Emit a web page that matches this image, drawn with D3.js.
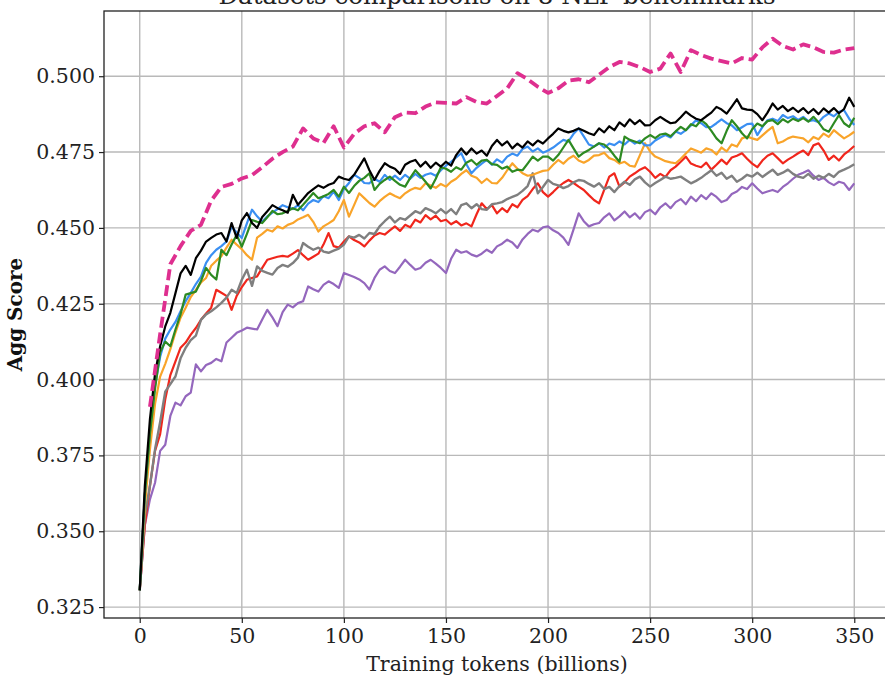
<!DOCTYPE html>
<html><head><meta charset="utf-8">
<script src="https://cdn.jsdelivr.net/npm/d3@7"></script>
<style>html,body{margin:0;padding:0;background:#fff;overflow:hidden}</style>
</head><body><svg id="chart" width="885" height="677"></svg>
<script>
const title = "Datasets comparisons on 8 NLP benchmarks";
const xLabel = "Training tokens (billions)";
const yLabel = "Agg Score";
const xTicks = [0, 50, 100, 150, 200, 250, 300, 350];
const yTicks = [0.325, 0.350, 0.375, 0.400, 0.425, 0.450, 0.475, 0.500];

const tokens = [0,2.5,5,7.5,10,12.5,15,17.5,20,22.5,25,27.5,30,32.5,35,37.5,40,42.5,45,47.5,
50,52.5,55,57.5,60,62.5,65,67.5,70,72.5,75,77.5,80,82.5,85,87.5,90,92.5,95,97.5,
100,102.5,105,107.5,110,112.5,115,117.5,120,122.5,125,127.5,130,132.5,135,137.5,140,142.5,145,147.5,
150,152.5,155,157.5,160,162.5,165,167.5,170,172.5,175,177.5,180,182.5,185,187.5,190,192.5,195,197.5,
200,202.5,205,207.5,210,212.5,215,217.5,220,222.5,225,227.5,230,232.5,235,237.5,240,242.5,245,247.5,
250,252.5,255,257.5,260,262.5,265,267.5,270,272.5,275,277.5,280,282.5,285,287.5,290,292.5,295,297.5,
300,302.5,305,307.5,310,312.5,315,317.5,320,322.5,325,327.5,330,332.5,335,337.5,340,342.5,345,347.5,350];

const pinkTokens = [5,10,15,20,25,30,35,40,45,50,55,60,65,70,75,80,85,90,95,100,
105,110,115,120,125,130,135,140,145,150,155,160,165,170,175,180,185,190,195,200,
205,210,215,220,225,230,235,240,245,250,255,260,265,270,275,280,285,290,295,300,
305,310,315,320,325,330,335,340,345,350];
const pinkSeries = [0.391,0.415,0.438,0.444,0.449,0.451,0.459,0.4635,0.4645,0.4663,
0.4674,0.470,0.4728,0.475,0.4768,0.4828,0.4795,0.478,0.4835,0.4765,
0.481,0.4835,0.4845,0.4815,0.4865,0.488,0.4878,0.490,0.4914,0.4912,
0.491,0.4931,0.4915,0.491,0.4935,0.496,0.501,0.499,0.4965,0.4945,
0.496,0.4985,0.499,0.498,0.5005,0.503,0.5047,0.5042,0.503,0.5014,
0.5025,0.5075,0.5014,0.5086,0.507,0.5058,0.505,0.5042,0.506,0.5055,
0.5095,0.5124,0.510,0.5088,0.5105,0.5095,0.508,0.5078,0.5088,0.5093];

const blackSeries = [
0.3305,0.365,0.387,0.402,0.411,0.4175,0.422,0.4285,0.435,0.4375,
0.4345,0.440,0.4425,0.4455,0.4467,0.4478,0.4483,0.4455,0.4516,0.4467,
0.4525,0.4549,0.4516,0.450,0.4536,0.4555,0.4575,0.4565,0.4558,0.455,
0.4609,0.4576,0.4595,0.4615,0.4628,0.464,0.4632,0.4642,0.4648,0.4669,
0.4662,0.4658,0.4675,0.4702,0.4729,0.469,0.4658,0.4688,0.4713,0.4702,
0.4695,0.4678,0.4708,0.4718,0.4724,0.4702,0.4718,0.4698,0.4715,0.4702,
0.4718,0.4705,0.474,0.4762,0.4742,0.4762,0.4745,0.4755,0.4738,0.477,
0.479,0.4772,0.4785,0.4762,0.4778,0.4765,0.4785,0.4772,0.4788,0.4778,
0.4795,0.481,0.4828,0.482,0.4815,0.482,0.4828,0.482,0.4812,0.4806,
0.4828,0.4815,0.4835,0.4822,0.4848,0.4835,0.4858,0.4842,0.4855,0.4838,
0.4839,0.4855,0.4866,0.4855,0.4845,0.4848,0.4865,0.4883,0.487,0.486,
0.4855,0.4868,0.488,0.4899,0.489,0.4877,0.49,0.4924,0.4894,0.489,
0.4888,0.4875,0.4855,0.488,0.491,0.489,0.4902,0.4885,0.4896,0.4882,
0.4895,0.4878,0.4892,0.4875,0.4894,0.488,0.4895,0.4878,0.4892,0.4929,
0.4899];

const blueSeries = [
0.3305,0.362,0.383,0.398,0.4075,0.4135,0.4165,0.419,0.4225,0.4258,
0.4286,0.4315,0.4339,0.4385,0.441,0.4428,0.444,0.4455,0.4504,0.4485,
0.4467,0.4515,0.456,0.4538,0.452,0.4538,0.455,0.4562,0.4575,0.4568,
0.4562,0.4575,0.4558,0.458,0.4592,0.4585,0.4605,0.4598,0.462,0.4592,
0.4628,0.4648,0.4675,0.4665,0.4648,0.4647,0.4662,0.4652,0.4675,0.4658,
0.4672,0.4658,0.4675,0.4662,0.4678,0.4665,0.4675,0.468,0.4672,0.469,
0.4705,0.4718,0.4732,0.4746,0.471,0.468,0.4698,0.4712,0.4724,0.4708,
0.4726,0.4715,0.4735,0.4745,0.4738,0.476,0.4768,0.4752,0.4762,0.4748,
0.4755,0.4765,0.4778,0.479,0.4785,0.481,0.4828,0.4802,0.4775,0.4768,
0.4779,0.4765,0.4778,0.4773,0.4785,0.4775,0.479,0.4778,0.4788,0.4772,
0.4773,0.4788,0.4798,0.4806,0.4798,0.4818,0.481,0.4822,0.4838,0.4855,
0.4845,0.4832,0.4833,0.4845,0.4858,0.4845,0.4838,0.4822,0.4832,0.4842,
0.4844,0.4806,0.4832,0.4855,0.486,0.4852,0.4872,0.4862,0.4868,0.4856,
0.4866,0.4852,0.4855,0.4848,0.4866,0.4877,0.4868,0.4883,0.4888,0.486,
0.4839];

const greenSeries = [
0.3305,0.362,0.382,0.397,0.409,0.4125,0.411,0.4165,0.4215,0.428,
0.4285,0.429,0.4325,0.4368,0.4345,0.433,0.4428,0.441,0.4445,0.4477,
0.4438,0.448,0.4526,0.452,0.4516,0.4535,0.4556,0.4545,0.4548,0.4556,
0.4565,0.4558,0.4576,0.4595,0.4615,0.4598,0.4604,0.4612,0.4625,0.4603,
0.4636,0.4615,0.4638,0.4655,0.4665,0.468,0.4625,0.4645,0.4658,0.4669,
0.4655,0.4642,0.4636,0.4665,0.469,0.4672,0.4652,0.463,0.4662,0.470,
0.4695,0.4685,0.470,0.4692,0.4715,0.4724,0.4708,0.4722,0.4724,0.471,
0.4708,0.4695,0.4702,0.4685,0.4692,0.469,0.4712,0.4735,0.4722,0.4735,
0.4735,0.4722,0.474,0.4765,0.479,0.4762,0.4735,0.4748,0.4757,0.4768,
0.4779,0.4775,0.476,0.4738,0.4718,0.4801,0.479,0.4785,0.4779,0.4795,
0.4806,0.4796,0.4808,0.4811,0.4802,0.4818,0.4833,0.4822,0.4842,0.4835,
0.4855,0.4842,0.482,0.4795,0.4779,0.482,0.4855,0.4835,0.4812,0.4795,
0.4825,0.4844,0.4835,0.4852,0.4855,0.4842,0.4858,0.4848,0.486,0.4852,
0.4862,0.485,0.4866,0.4848,0.4825,0.4817,0.4845,0.4872,0.4845,0.4833,
0.4863];

const orangeSeries = [
0.3305,0.358,0.377,0.392,0.401,0.4052,0.410,0.4155,0.4204,0.4237,
0.4272,0.4296,0.432,0.4335,0.4375,0.4392,0.4407,0.4435,0.4461,0.4445,
0.443,0.441,0.4395,0.4468,0.448,0.4494,0.4488,0.4505,0.4498,0.451,
0.4516,0.4528,0.4535,0.4543,0.452,0.4488,0.4505,0.4515,0.4526,0.4555,
0.4592,0.4537,0.4575,0.4614,0.4598,0.4582,0.457,0.4588,0.4602,0.4614,
0.4605,0.4598,0.4614,0.4625,0.4632,0.4628,0.4647,0.464,0.4632,0.4645,
0.4636,0.4652,0.4662,0.4678,0.469,0.4672,0.4665,0.4648,0.4662,0.4648,
0.4647,0.4665,0.469,0.4713,0.4695,0.468,0.4672,0.4675,0.4682,0.4688,
0.469,0.4708,0.4724,0.4712,0.4728,0.4738,0.4722,0.4715,0.4724,0.4738,
0.474,0.4748,0.473,0.4724,0.4712,0.4718,0.4705,0.4702,0.474,0.4779,
0.4752,0.4735,0.4728,0.472,0.4716,0.4713,0.4728,0.4745,0.4762,0.4755,
0.4748,0.4762,0.4757,0.4742,0.4765,0.4752,0.4775,0.4768,0.4795,0.4801,
0.4795,0.479,0.4805,0.482,0.4833,0.4779,0.4785,0.4795,0.4801,0.4798,
0.4795,0.4782,0.48,0.4792,0.4811,0.48,0.4822,0.4808,0.4795,0.4805,
0.4817];

const redSeries = [
0.3305,0.352,0.365,0.3765,0.382,0.3935,0.4015,0.406,0.4105,0.4122,
0.4148,0.417,0.4197,0.4218,0.4237,0.4296,0.4286,0.4276,0.423,0.4276,
0.4305,0.4329,0.4335,0.434,0.4368,0.4395,0.44,0.4405,0.4408,0.4405,
0.4415,0.4427,0.441,0.4395,0.4405,0.4415,0.4445,0.4483,0.444,0.4435,
0.4455,0.4472,0.446,0.4452,0.4439,0.4458,0.4475,0.4483,0.4478,0.4492,
0.4505,0.449,0.451,0.4502,0.4527,0.4518,0.4542,0.4528,0.454,0.4522,
0.4527,0.4512,0.4522,0.4508,0.4515,0.4505,0.4545,0.4581,0.4562,0.4575,
0.4548,0.4565,0.4552,0.4578,0.4568,0.4592,0.4605,0.4628,0.4647,0.4618,
0.4603,0.4618,0.4635,0.4648,0.4658,0.4648,0.4636,0.4625,0.4608,0.4592,
0.4581,0.4625,0.4669,0.468,0.4636,0.465,0.4669,0.468,0.4692,0.470,
0.4685,0.4665,0.4678,0.4668,0.469,0.4702,0.4718,0.4735,0.4712,0.4705,
0.470,0.4715,0.4692,0.4708,0.4725,0.471,0.4732,0.4738,0.4746,0.4728,
0.4712,0.470,0.4722,0.4738,0.4746,0.473,0.4713,0.4725,0.4735,0.4746,
0.4755,0.474,0.4772,0.4779,0.4755,0.4724,0.4738,0.4722,0.4742,0.4755,
0.477];

const graySeries = [
0.3305,0.355,0.365,0.377,0.386,0.396,0.3985,0.401,0.407,0.4105,
0.413,0.4145,0.4197,0.4215,0.4225,0.4238,0.4253,0.427,0.4296,0.4285,
0.4329,0.4362,0.4309,0.4373,0.4358,0.4352,0.4346,0.4368,0.4378,0.4372,
0.4384,0.4402,0.445,0.4438,0.4428,0.4435,0.4422,0.4418,0.4425,0.4432,
0.4445,0.4472,0.4468,0.4477,0.4465,0.4483,0.448,0.4505,0.4522,0.4537,
0.4518,0.4532,0.4527,0.4541,0.4555,0.4548,0.4565,0.4558,0.4548,0.4562,
0.4548,0.4562,0.4545,0.4575,0.4581,0.4565,0.4578,0.4562,0.456,0.4578,
0.4581,0.4585,0.4595,0.4602,0.4609,0.4622,0.4638,0.468,0.4614,0.4635,
0.4658,0.4645,0.464,0.4631,0.4638,0.465,0.4658,0.4655,0.4645,0.4636,
0.4647,0.4628,0.4635,0.4618,0.4638,0.4652,0.4642,0.466,0.4669,0.465,
0.4636,0.4648,0.4658,0.4669,0.4662,0.4665,0.4669,0.4658,0.4647,0.4655,
0.4665,0.4678,0.469,0.4672,0.4682,0.4662,0.4672,0.4652,0.4662,0.4675,
0.4669,0.4682,0.4668,0.468,0.4692,0.4675,0.4682,0.4692,0.4678,0.4669,
0.4665,0.4678,0.4662,0.4672,0.4665,0.4678,0.4668,0.4685,0.4692,0.470,
0.471];

const purpleSeries = [
0.3305,0.352,0.3605,0.366,0.3765,0.3785,0.388,0.3924,0.3915,0.3945,
0.3957,0.405,0.4027,0.4048,0.4055,0.4068,0.406,0.4122,0.4138,0.4154,
0.4162,0.4171,0.4168,0.4165,0.4198,0.423,0.4205,0.4176,0.4222,0.4247,
0.4238,0.4252,0.4258,0.4307,0.4298,0.429,0.4312,0.4324,0.4315,0.4302,
0.4351,0.4345,0.4338,0.433,0.4318,0.4297,0.4335,0.4362,0.4373,0.4358,
0.4351,0.4372,0.4395,0.4378,0.4362,0.4368,0.4385,0.4395,0.4382,0.4368,
0.4351,0.4398,0.4428,0.4418,0.4423,0.4412,0.4406,0.4415,0.4428,0.4418,
0.4439,0.4448,0.4461,0.4452,0.4434,0.4462,0.448,0.4494,0.4488,0.4502,
0.4505,0.4492,0.4483,0.4468,0.4444,0.4495,0.4548,0.4522,0.4505,0.4512,
0.4516,0.4535,0.4548,0.4525,0.4538,0.4554,0.4535,0.4548,0.453,0.4552,
0.456,0.4545,0.4568,0.4581,0.4565,0.4585,0.4595,0.4578,0.4603,0.4588,
0.4608,0.4595,0.4614,0.4602,0.4585,0.4592,0.4612,0.462,0.4635,0.4628,
0.4647,0.463,0.4614,0.462,0.4625,0.4618,0.4635,0.4647,0.4662,0.4675,
0.4682,0.469,0.4672,0.4658,0.4665,0.465,0.4641,0.4652,0.4647,0.4625,
0.4647];

const seriesList = [
  {name:"purple", values: purpleSeries, x: tokens, color:"#9467bd", width:2.2, dash:null},
  {name:"red", values: redSeries, x: tokens, color:"#f0261c", width:2.2, dash:null},
  {name:"gray", values: graySeries, x: tokens, color:"#7f7f7f", width:2.4, dash:null},
  {name:"orange", values: orangeSeries, x: tokens, color:"#f9a42a", width:2.2, dash:null},
  {name:"blue", values: blueSeries, x: tokens, color:"#3a8ff2", width:2.2, dash:null},
  {name:"green", values: greenSeries, x: tokens, color:"#2d8a22", width:2.2, dash:null},
  {name:"black", values: blackSeries, x: tokens, color:"#000000", width:2.2, dash:null},
  {name:"pink", values: pinkSeries, x: pinkTokens, color:"#de2f8f", width:3.8, dash:"11,5"}
];

const svg = d3.select("#chart");
const L = 104, R = 890, T = 11, B = 618;
const x = d3.scaleLinear().domain([-17.5, 367.5]).range([L, R]);
const y = d3.scaleLinear().domain([0.3214, 0.5215]).range([B, T]);
const font = "'DejaVu Serif', 'Liberation Serif', serif";

// grid
const grid = svg.append("g");
grid.selectAll("line.vx").data(xTicks).join("line")
  .attr("x1", d => x(d)).attr("x2", d => x(d)).attr("y1", T).attr("y2", B)
  .attr("stroke", "#b9b9b9").attr("stroke-width", 1.4);
grid.selectAll("line.hy").data(yTicks).join("line")
  .attr("x1", L).attr("x2", R).attr("y1", d => y(d)).attr("y2", d => y(d))
  .attr("stroke", "#b9b9b9").attr("stroke-width", 1.4);

// lines
const plot = svg.append("g");
seriesList.forEach(s => {
  const pts = s.values.map((v, i) => [s.x[i], v]);
  const line = d3.line().x(d => x(d[0])).y(d => y(d[1]));
  plot.append("path").datum(pts).attr("d", line)
    .attr("fill", "none").attr("stroke", s.color).attr("stroke-width", s.width)
    .attr("stroke-linejoin", "round")
    .attr("stroke-dasharray", s.dash);
});

// frame
svg.append("rect").attr("x", L).attr("y", T).attr("width", R - L).attr("height", B - T)
  .attr("fill", "none").attr("stroke", "#222").attr("stroke-width", 1.3);

// axes
const xAxis = svg.append("g").attr("transform", `translate(0,${B})`)
  .call(d3.axisBottom(x).tickValues(xTicks).tickFormat(d3.format("d")).tickSize(5).tickPadding(5));
const yAxis = svg.append("g").attr("transform", `translate(${L},0)`)
  .call(d3.axisLeft(y).tickValues(yTicks).tickFormat(d3.format(".3f")).tickSize(5).tickPadding(4));
[xAxis, yAxis].forEach(a => {
  a.select(".domain").remove();
  a.selectAll(".tick line").attr("stroke", "#222").attr("stroke-width", 1.2);
  a.selectAll(".tick text").attr("font-family", font).attr("font-size", 20.5).attr("fill", "#222");
});

// labels
svg.append("text").attr("x", (L + R) / 2).attr("y", 671).attr("text-anchor", "middle")
  .attr("font-family", font).attr("font-size", 20.5).attr("fill", "#222").text(xLabel);
svg.append("text").attr("transform", `translate(22,${(T + B) / 2}) rotate(-90)`)
  .attr("text-anchor", "middle").attr("font-family", font).attr("font-weight", "bold")
  .attr("font-size", 20).attr("fill", "#111").text(yLabel);
svg.append("text").attr("x", (L + R) / 2).attr("y", 4).attr("text-anchor", "middle")
  .attr("font-family", font).attr("font-size", 24.5).attr("fill", "#222").text(title);
</script>
</body></html>
